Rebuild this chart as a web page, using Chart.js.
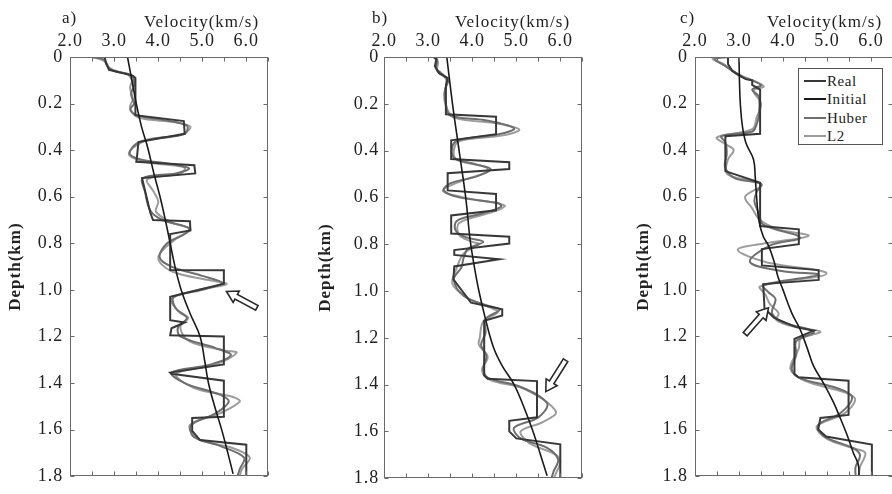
<!DOCTYPE html>
<html>
<head>
<meta charset="utf-8">
<script src="https://cdn.jsdelivr.net/npm/chart.js@4.4.1/dist/chart.umd.min.js"></script>
<style>
  html, body { margin: 0; padding: 0; background: #fff; }
  #page { position: relative; width: 892px; height: 494px; overflow: hidden; }
  .panel { position: absolute; top: 0; }
  .txt { position: absolute; font-family: 'Liberation Serif', serif; font-size: 17px; line-height: 1; color: #222; letter-spacing: 1px; white-space: nowrap; }
  #legend { position: absolute; left: 798px; top: 68px; width: 85px; height: 77px; border: 1px solid #555; box-sizing: border-box; background: #fff; }
  #legend .row { position: absolute; left: 5px; height: 16px; }
  #legend .swatch { position: absolute; left: 0; top: 7px; width: 22px; height: 2px; }
  #legend .name { position: absolute; left: 23px; top: 0; font-family: 'Liberation Serif', serif; font-size: 15px; line-height: 16px; color: #222; letter-spacing: 0.6px; }
</style>
</head>
<body>
<div id="page">
  <div class="panel" style="left:0px"><canvas id="pa" width="300" height="494"></canvas></div>
  <div class="panel" style="left:310px"><canvas id="pb" width="290" height="494"></canvas></div>
  <div class="panel" style="left:628px"><canvas id="pc" width="272" height="494"></canvas></div>

  <div class="txt" style="left:62px;top:9px">a)</div>
  <div class="txt" style="left:372px;top:9px">b)</div>
  <div class="txt" style="left:680px;top:9px">c)</div>
  <div class="txt" style="left:144px;top:13px">Velocity(km/s)</div>
  <div class="txt" style="left:455px;top:13px">Velocity(km/s)</div>
  <div class="txt" style="left:767px;top:13px">Velocity(km/s)</div>
  <div id="legend"></div>
</div>

<script>
// velocity (km/s), depth (km) pairs for each well log
const seriesNames = ['Real', 'Initial', 'Huber', 'L2'];
const velocityLabels = ['2.0', '3.0', '4.0', '5.0', '6.0'];
const depthLabels = ['0', '0.2', '0.4', '0.6', '0.8', '1.0', '1.2', '1.4', '1.6', '1.8'];

// panel a
const realA = [[2.49,0],[2.78,0],[2.82,0.03],[2.88,0.055],[3.42,0.08],[3.48,0.09],[3.48,0.25],[4.58,0.275],[4.6,0.33],[3.55,0.365],[3.52,0.42],[3.5,0.45],[4.82,0.465],[4.84,0.5],[3.63,0.52],[3.82,0.67],[3.88,0.7],[4.72,0.705],[4.73,0.745],[4.27,0.76],[4.27,0.915],[5.49,0.916],[5.49,0.973],[4.27,1.03],[4.27,1.13],[4.6,1.14],[4.3,1.165],[4.27,1.195],[5.49,1.2],[5.49,1.32],[4.27,1.355],[4.3,1.36],[5.49,1.39],[5.49,1.545],[4.77,1.55],[4.77,1.605],[4.95,1.645],[6.0,1.665],[6.0,1.8]];
const initA = [[3.3,0],[3.4,0.1],[3.5,0.2],[3.62,0.3],[3.76,0.39],[3.9,0.5],[4.04,0.6],[4.16,0.7],[4.27,0.8],[4.38,0.9],[4.52,1.0],[4.72,1.1],[4.95,1.2],[5.05,1.3],[5.14,1.4],[5.28,1.5],[5.44,1.6],[5.58,1.7],[5.7,1.79]];
const huberA = [[2.49,0],[2.75,0.01],[2.85,0.04],[3.0,0.06],[3.4,0.08],[3.45,0.12],[3.38,0.16],[3.45,0.2],[3.36,0.225],[3.5,0.25],[4.1,0.27],[4.65,0.295],[4.6,0.33],[3.9,0.35],[3.52,0.37],[3.35,0.415],[3.6,0.44],[4.3,0.46],[4.7,0.478],[4.4,0.5],[3.65,0.52],[3.7,0.58],[3.82,0.66],[4.1,0.7],[4.7,0.735],[4.6,0.76],[4.2,0.8],[4.03,0.86],[4.3,0.9],[5.0,0.94],[5.45,0.97],[5.0,1.0],[4.35,1.03],[4.4,1.08],[4.65,1.12],[4.45,1.16],[4.5,1.2],[5.3,1.25],[5.65,1.28],[5.2,1.32],[4.3,1.355],[4.6,1.4],[5.4,1.45],[5.6,1.48],[5.3,1.53],[4.75,1.58],[4.8,1.63],[5.4,1.67],[5.95,1.72],[5.85,1.77],[5.8,1.8]];
const l2A = [[2.5,0],[2.8,0.02],[2.9,0.05],[3.3,0.075],[3.4,0.1],[3.36,0.133],[3.42,0.18],[3.36,0.217],[3.55,0.26],[4.4,0.28],[4.73,0.3],[4.5,0.335],[3.7,0.36],[3.33,0.415],[3.7,0.45],[4.6,0.475],[4.5,0.5],[3.75,0.525],[3.9,0.58],[4.0,0.62],[3.95,0.665],[4.3,0.71],[4.73,0.74],[4.4,0.78],[4.0,0.86],[4.3,0.92],[5.2,0.96],[5.55,0.975],[4.9,1.0],[4.3,1.04],[4.5,1.1],[4.68,1.12],[4.5,1.16],[4.7,1.22],[5.5,1.26],[5.78,1.27],[5.3,1.32],[4.4,1.36],[4.8,1.42],[5.7,1.46],[5.85,1.48],[5.4,1.53],[4.72,1.58],[4.9,1.64],[5.7,1.68],[6.08,1.72],[5.9,1.77],[5.85,1.8]];

// panel b
const realB = [[3.12,0],[3.18,0.01],[3.15,0.04],[3.25,0.07],[3.44,0.09],[3.4,0.12],[3.4,0.245],[4.54,0.255],[4.54,0.33],[3.52,0.356],[3.52,0.436],[4.84,0.45],[4.84,0.479],[3.44,0.497],[3.44,0.57],[4.54,0.585],[4.54,0.655],[3.52,0.677],[3.52,0.754],[4.84,0.768],[4.84,0.797],[3.59,0.825],[3.59,0.846],[4.61,0.864],[3.59,0.895],[3.57,0.95],[3.97,1.05],[4.68,1.078],[4.68,1.105],[4.27,1.127],[4.27,1.36],[4.35,1.375],[5.47,1.385],[5.47,1.54],[4.84,1.555],[4.84,1.6],[5.0,1.63],[6.0,1.655],[6.0,1.8]];
const initB = [[3.42,0],[3.55,0.2],[3.7,0.4],[3.85,0.6],[3.95,0.78],[4.05,0.9],[4.15,1.0],[4.3,1.12],[4.48,1.24],[4.68,1.32],[4.95,1.4],[5.18,1.5],[5.38,1.6],[5.55,1.7],[5.7,1.79]];
const huberB = [[3.12,0],[3.2,0.01],[3.18,0.05],[3.3,0.07],[3.45,0.1],[3.38,0.14],[3.4,0.2],[3.5,0.25],[4.3,0.27],[4.95,0.305],[4.6,0.33],[3.7,0.355],[3.55,0.38],[3.58,0.43],[4.1,0.46],[4.42,0.48],[4.1,0.51],[3.5,0.54],[3.35,0.57],[3.7,0.6],[4.6,0.625],[4.65,0.64],[4.2,0.67],[3.65,0.7],[3.62,0.74],[3.85,0.77],[4.25,0.79],[3.9,0.82],[3.8,0.86],[3.75,0.9],[3.58,0.95],[3.8,1.02],[4.3,1.06],[4.62,1.08],[4.3,1.12],[4.3,1.18],[4.2,1.23],[4.32,1.28],[4.25,1.33],[4.35,1.37],[5.1,1.41],[5.7,1.48],[5.5,1.54],[4.95,1.585],[5.1,1.63],[5.7,1.67],[5.95,1.72],[5.85,1.77],[5.8,1.8]];
const l2B = [[3.12,0],[3.22,0.02],[3.2,0.06],[3.35,0.08],[3.42,0.11],[3.36,0.16],[3.42,0.22],[3.6,0.26],[4.6,0.285],[5.07,0.31],[4.7,0.335],[3.7,0.36],[3.58,0.4],[3.65,0.44],[4.3,0.47],[4.35,0.49],[3.9,0.52],[3.33,0.57],[3.8,0.6],[4.73,0.634],[4.5,0.66],[3.7,0.71],[3.7,0.76],[4.0,0.79],[4.15,0.8],[3.8,0.84],[3.65,0.9],[3.55,0.97],[3.9,1.03],[4.4,1.07],[4.58,1.09],[4.25,1.13],[4.17,1.2],[4.15,1.23],[4.35,1.28],[4.22,1.34],[4.4,1.38],[5.2,1.42],[5.9,1.515],[5.6,1.56],[5.1,1.6],[5.3,1.65],[5.9,1.7],[6.0,1.73],[5.9,1.78],[5.85,1.8]];

// panel c
const realC = [[2.75,0],[2.75,0.03],[2.85,0.06],[3.15,0.095],[3.3,0.1],[3.3,0.12],[3.48,0.14],[3.48,0.33],[2.69,0.34],[2.69,0.49],[3.48,0.54],[3.48,0.726],[4.36,0.74],[4.36,0.804],[3.52,0.825],[3.52,0.895],[4.81,0.915],[4.81,0.957],[3.55,0.975],[3.58,1.08],[3.8,1.12],[4.3,1.16],[4.7,1.175],[4.26,1.21],[4.26,1.36],[4.35,1.375],[5.49,1.39],[5.49,1.537],[4.85,1.55],[4.8,1.6],[4.98,1.63],[6.02,1.664],[6.02,1.8]];
const initC = [[3.0,0],[3.01,0.1],[3.03,0.2],[3.08,0.3],[3.16,0.37],[3.33,0.44],[3.37,0.52],[3.4,0.6],[3.45,0.7],[3.55,0.77],[3.67,0.81],[3.8,0.88],[3.88,0.94],[4.0,1.0],[4.2,1.1],[4.39,1.17],[4.55,1.25],[4.69,1.325],[4.92,1.4],[5.14,1.48],[5.3,1.55],[5.45,1.62],[5.6,1.7],[5.71,1.75],[5.73,1.8]];
const huberC = [[2.75,0],[2.45,0.01],[2.7,0.04],[3.0,0.08],[3.5,0.12],[3.3,0.14],[3.45,0.17],[3.45,0.25],[3.4,0.29],[3.3,0.32],[2.6,0.34],[2.7,0.37],[2.72,0.42],[2.68,0.47],[2.9,0.52],[3.5,0.545],[3.4,0.58],[3.35,0.62],[3.45,0.67],[3.55,0.72],[4.39,0.775],[3.7,0.81],[3.25,0.88],[4.0,0.92],[4.8,0.935],[3.55,0.98],[3.67,1.01],[3.83,1.04],[3.75,1.1],[4.0,1.14],[4.7,1.18],[4.3,1.22],[4.3,1.28],[4.2,1.34],[4.4,1.38],[5.2,1.42],[5.57,1.46],[5.3,1.53],[4.8,1.58],[4.95,1.63],[5.6,1.68],[5.75,1.71],[5.65,1.76],[5.65,1.8]];
const l2C = [[2.78,0],[2.4,0.006],[2.65,0.03],[2.95,0.07],[3.56,0.125],[3.33,0.145],[3.5,0.2],[3.4,0.26],[3.3,0.31],[2.5,0.345],[2.75,0.38],[2.88,0.4],[2.75,0.44],[2.72,0.5],[3.2,0.53],[3.52,0.55],[3.14,0.6],[3.3,0.65],[3.48,0.7],[3.9,0.74],[4.58,0.768],[3.6,0.8],[2.97,0.828],[3.6,0.88],[4.99,0.93],[3.48,0.985],[3.6,1.02],[3.7,1.06],[3.9,1.1],[3.85,1.13],[4.3,1.16],[4.85,1.18],[4.4,1.21],[4.36,1.25],[4.17,1.34],[4.5,1.39],[5.4,1.44],[5.64,1.47],[5.4,1.53],[4.77,1.586],[5.0,1.64],[5.6,1.68],[5.87,1.7],[5.75,1.76],[5.72,1.8]];

// arrow annotations: tail and tip as [velocity, depth]
const arrowA = { tail: [6.24, 1.077], tip: [5.55, 1.007] };
const arrowB = { tail: [6.12, 1.296], tip: [5.67, 1.43] };
const arrowC = { tail: [3.14, 1.19], tip: [3.67, 1.077] };

// line styles, same order as seriesNames
const lineColors = ['#383838', '#1a1a1a', '#6e6e6e', '#9c9c9c'];
const lineWidths = [2, 1.6, 2, 2];
const lineTension = [0, 0.4, 0.35, 0.35];
const drawOrder = [1, 0, 2, 3];

const serif = 'Liberation Serif';

const toPoints = arr => arr.map(([v, d]) => ({ x: v, y: d }));
const labelFor = (list, v) => list.find(l => Math.abs(Number(l) - v) < 1e-6) || '';

// frame with inward ticks on all four sides, plus the arrow
const framePlugin = {
  id: 'frame',
  beforeDraw(chart) {
    chart.ctx.letterSpacing = '1px';
  },
  afterDraw(chart, args, opts) {
    const { ctx, chartArea: a, scales: { x, y } } = chart;
    const L = Math.round(a.left) + 0.5, R = Math.round(a.right) - 0.5;
    const T = Math.round(a.top) + 0.5, B = Math.round(a.bottom) - 0.5;
    ctx.save();
    ctx.strokeStyle = '#6a6a6a';
    ctx.lineWidth = 1;
    ctx.strokeRect(L, T, R - L, B - T);
    ctx.beginPath();
    x.ticks.forEach(t => {
      const px = Math.round(x.getPixelForValue(t.value)) + 0.5;
      ctx.moveTo(px, T); ctx.lineTo(px, T + 4);
      ctx.moveTo(px, B); ctx.lineTo(px, B - 4);
    });
    y.ticks.forEach(t => {
      const py = Math.round(y.getPixelForValue(t.value)) + 0.5;
      ctx.moveTo(L, py); ctx.lineTo(L + 4, py);
      ctx.moveTo(R, py); ctx.lineTo(R - 4, py);
    });
    ctx.stroke();

    const arrow = opts.arrow;
    if (arrow) {
      const x0 = x.getPixelForValue(arrow.tail[0]), y0 = y.getPixelForValue(arrow.tail[1]);
      const x1 = x.getPixelForValue(arrow.tip[0]), y1 = y.getPixelForValue(arrow.tip[1]);
      const len = Math.hypot(x1 - x0, y1 - y0);
      const hl = 11, hw = 6.5, sw = 2.6;
      ctx.translate(x1, y1);
      ctx.rotate(Math.atan2(y1 - y0, x1 - x0));
      ctx.beginPath();
      ctx.moveTo(0, 0);
      ctx.lineTo(-hl, -hw); ctx.lineTo(-hl, -sw); ctx.lineTo(-len, -sw);
      ctx.lineTo(-len, sw); ctx.lineTo(-hl, sw); ctx.lineTo(-hl, hw);
      ctx.closePath();
      ctx.fillStyle = '#fff';
      ctx.fill();
      ctx.strokeStyle = '#2a2a2a';
      ctx.lineWidth = 1.6;
      ctx.stroke();
    }
    ctx.restore();
  }
};

function makePanel(id, series, axisWidth, padRight, tickPad, arrow) {
  new Chart(document.getElementById(id), {
    type: 'scatter',
    data: {
      datasets: series.map((s, i) => ({
        label: seriesNames[i],
        data: toPoints(s),
        showLine: true,
        borderColor: lineColors[i],
        borderWidth: lineWidths[i],
        tension: lineTension[i],
        pointRadius: 0,
        order: drawOrder[i]
      }))
    },
    options: {
      responsive: false,
      animation: false,
      layout: { padding: { left: 0, top: 0, right: padRight, bottom: 12 } },
      plugins: {
        legend: { display: false },
        tooltip: { enabled: false },
        frame: { arrow: arrow }
      },
      scales: {
        x: {
          type: 'linear',
          position: 'top',
          min: 2,
          max: 6.5,
          grid: { display: false, drawTicks: false, tickLength: 0 },
          border: { display: false },
          ticks: {
            stepSize: 0.5,
            autoSkip: false,
            maxRotation: 0,
            padding: 5,
            color: '#222',
            font: { family: serif, size: 18 },
            callback: v => labelFor(velocityLabels, v)
          },
          afterFit: s => { s.height = 57; }
        },
        y: {
          type: 'linear',
          position: 'left',
          reverse: true,
          min: 0,
          max: 1.8,
          grid: { display: false, drawTicks: false, tickLength: 0 },
          border: { display: false },
          title: {
            display: true,
            text: 'Depth(km)',
            color: '#222',
            font: { family: serif, size: 17, weight: 'bold' },
            padding: { top: 5, bottom: 0 }
          },
          ticks: {
            stepSize: 0.2,
            padding: tickPad,
            color: '#222',
            font: { family: serif, size: 18 },
            callback: v => labelFor(depthLabels, v)
          },
          afterFit: s => { s.width = axisWidth; }
        }
      }
    },
    plugins: [framePlugin]
  });
}

makePanel('pa', [realA, initA, huberA, l2A], 70.3, 31.7, 7, arrowA);
makePanel('pb', [realB, initB, huberB, l2B], 74.3, 17.7, 5, arrowB);
makePanel('pc', [realC, initC, huberC, l2C], 67, 7, 7, arrowC);

// legend box for panel c
const legend = document.getElementById('legend');
const rowTops = [4, 22, 40.5, 59];
seriesNames.forEach((name, i) => {
  const row = document.createElement('div');
  row.className = 'row';
  row.style.top = rowTops[i] + 'px';
  row.innerHTML = '<div class="swatch" style="background:' + lineColors[i] + '"></div><div class="name">' + name + '</div>';
  legend.appendChild(row);
});
</script>
</body>
</html>
